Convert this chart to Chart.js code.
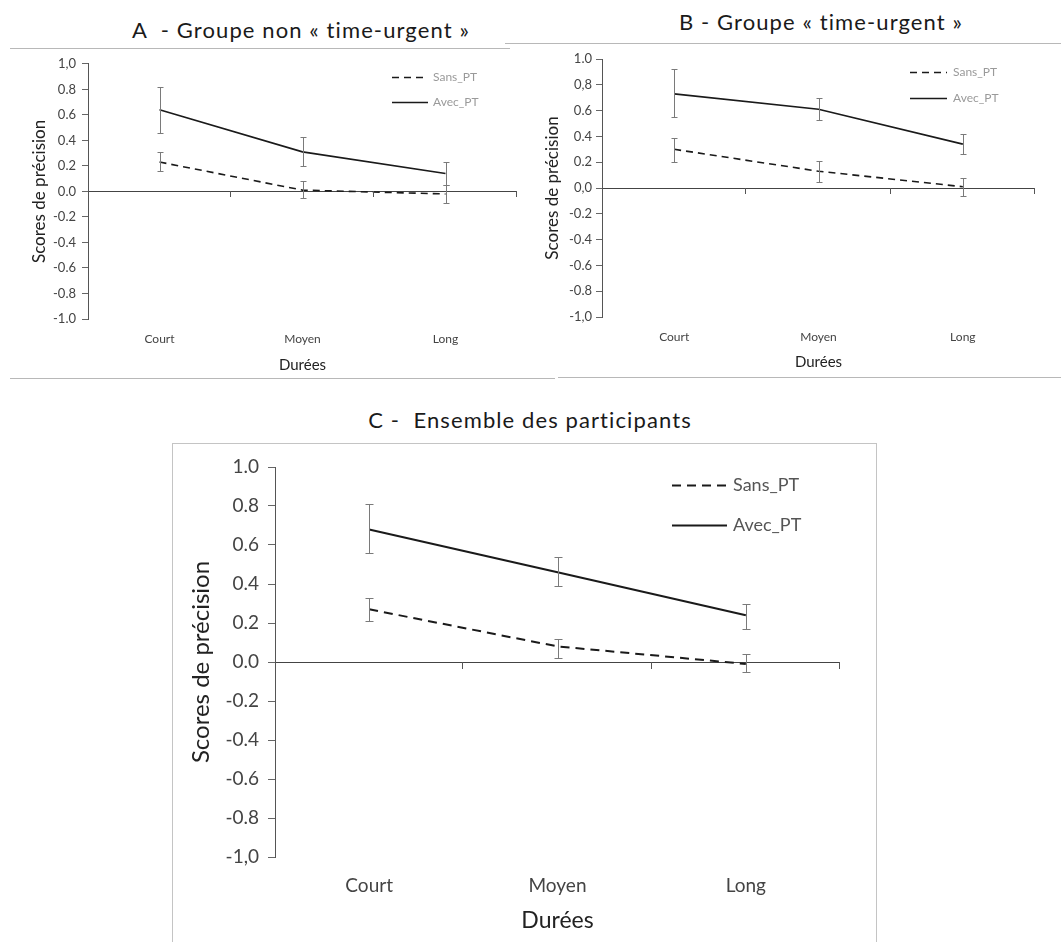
<!DOCTYPE html>
<html>
<head>
<meta charset="utf-8">
<script src="https://cdn.jsdelivr.net/npm/chart.js@4.4.1/dist/chart.umd.min.js"></script>
<style>
  body { margin: 0; background: #fff; width: 1061px; height: 942px; position: relative; overflow: hidden; font-family: Lato, sans-serif; }
  .title { position: absolute; font-size: 22px; line-height: 26px; letter-spacing: 1.1px; color: #1a1a1a; white-space: pre; transform: translateX(-50%); }
  .rule { position: absolute; height: 0; border-top: 1px solid #b8b8b8; }
  .box { position: absolute; border: 1px solid #c4c4c4; border-bottom: none; }
  canvas { position: absolute; }
</style>
</head>
<body>

<div class="title" style="left:301px; top:17px">A  - Groupe non « time-urgent »</div>
<div class="title" style="left:821px; top:9px">B - Groupe « time-urgent »</div>
<div class="title" style="left:530px; top:407px">C -  Ensemble des participants</div>

<div class="rule" style="left:10px; top:48px; width:500px"></div>
<div class="rule" style="left:505px; top:43px; width:556px"></div>
<div class="rule" style="left:10px; top:378px; width:545px"></div>
<div class="rule" style="left:558px; top:377px; width:503px"></div>
<div class="box" style="left:172px; top:443px; width:703px; height:520px"></div>

<canvas id="chartA" width="540" height="326" style="left:0px; top:50px"></canvas>
<canvas id="chartB" width="531" height="330" style="left:530px; top:45px"></canvas>
<canvas id="chartC" width="703" height="497" style="left:172px; top:445px"></canvas>

<script>
// data
const categories = ["Court", "Moyen", "Long"];
const seriesNames = ["Sans_PT", "Avec_PT"];

const yTicksA = ["1,0", "0.8", "0.6", "0.4", "0.2", "0.0", "-0.2", "-0.4", "-0.6", "-0.8", "-1.0"];
const yTicksB = ["1.0", "0,8", "0.6", "0.4", "0.2", "0,0", "-0.2", "-0.4", "-0.6", "-0.8", "-1,0"];
const yTicksC = ["1.0", "0.8", "0.6", "0.4", "0.2", "0.0", "-0.2", "-0.4", "-0.6", "-0.8", "-1,0"];

const sansA = [0.23, 0.01, -0.02];
const sansA_hi = [0.31, 0.08, 0.05];
const sansA_lo = [0.16, -0.05, -0.09];
const avecA = [0.64, 0.31, 0.14];
const avecA_hi = [0.82, 0.43, 0.23];
const avecA_lo = [0.46, 0.20, 0.05];

const sansB = [0.30, 0.13, 0.01];
const sansB_hi = [0.39, 0.21, 0.08];
const sansB_lo = [0.20, 0.05, -0.06];
const avecB = [0.73, 0.61, 0.34];
const avecB_hi = [0.92, 0.70, 0.42];
const avecB_lo = [0.55, 0.53, 0.26];

const sansC = [0.27, 0.08, -0.01];
const sansC_hi = [0.33, 0.12, 0.04];
const sansC_lo = [0.21, 0.02, -0.05];
const avecC = [0.68, 0.46, 0.24];
const avecC_hi = [0.81, 0.54, 0.30];
const avecC_lo = [0.56, 0.39, 0.17];

Chart.defaults.font.family = "Lato, sans-serif";

// error bars drawn from each dataset's errHi / errLo
const errorBars = {
  id: "errorBars",
  afterDatasetsDraw(chart, args, opts) {
    const ctx = chart.ctx;
    const y = chart.scales.y;
    chart.data.datasets.forEach(function (ds, i) {
      const meta = chart.getDatasetMeta(i);
      ctx.save();
      ctx.strokeStyle = opts.color;
      ctx.lineWidth = 1;
      meta.data.forEach(function (pt, j) {
        const px = Math.round(pt.x) + 0.5;
        const yHi = Math.round(y.getPixelForValue(ds.errHi[j])) + 0.5;
        const yLo = Math.round(y.getPixelForValue(ds.errLo[j])) + 0.5;
        ctx.beginPath();
        ctx.moveTo(px, yHi); ctx.lineTo(px, yLo);
        ctx.moveTo(px - opts.cap, yHi); ctx.lineTo(px + opts.cap, yHi);
        ctx.moveTo(px - opts.cap, yLo); ctx.lineTo(px + opts.cap, yLo);
        ctx.stroke();
      });
      ctx.restore();
    });
  }
};

// small tick marks on the horizontal axis that crosses at 0
const zeroTicks = {
  id: "zeroTicks",
  afterDraw(chart, args, opts) {
    const ctx = chart.ctx;
    const x = chart.scales.x, y = chart.scales.y;
    const y0 = Math.round(y.getPixelForValue(0));
    const step = x.getPixelForValue(1) - x.getPixelForValue(0);
    ctx.save();
    ctx.strokeStyle = opts.color;
    ctx.lineWidth = 1;
    ctx.beginPath();
    for (let i = 0; i < categories.length; i++) {
      const px = Math.round(x.getPixelForValue(i) + step / 2) - 0.5;
      ctx.moveTo(px, y0);
      ctx.lineTo(px, y0 + opts.len);
    }
    ctx.stroke();
    ctx.restore();
  }
};

// legend inside the plot, top right
const innerLegend = {
  id: "innerLegend",
  afterDraw(chart, args, opts) {
    const ctx = chart.ctx;
    const area = chart.chartArea;
    ctx.save();
    ctx.font = opts.size + "px Lato, sans-serif";
    ctx.textBaseline = "middle";
    chart.data.datasets.forEach(function (ds, i) {
      const ly = Math.round(area.top + opts.rows[i]) + 0.5;
      ctx.strokeStyle = ds.borderColor;
      ctx.lineWidth = ds.borderWidth;
      ctx.setLineDash(ds.borderDash || []);
      ctx.beginPath();
      ctx.moveTo(area.right - opts.lineStart, ly);
      ctx.lineTo(area.right - opts.lineEnd, ly);
      ctx.stroke();
      ctx.setLineDash([]);
      ctx.fillStyle = opts.color;
      ctx.fillText(ds.label, area.right - opts.textStart, ly);
    });
    ctx.restore();
  }
};

function makeChart(id, s) {
  const ctx = document.getElementById(id).getContext("2d");
  return new Chart(ctx, {
    type: "line",
    data: {
      labels: categories,
      datasets: [
        {
          label: seriesNames[0],
          data: s.sans, errHi: s.sansHi, errLo: s.sansLo,
          borderColor: "#1a1a1a", borderWidth: s.lw, borderDash: s.dash,
          pointRadius: 0, fill: false, tension: 0
        },
        {
          label: seriesNames[1],
          data: s.avec, errHi: s.avecHi, errLo: s.avecLo,
          borderColor: "#1a1a1a", borderWidth: s.lw,
          pointRadius: 0, fill: false, tension: 0
        }
      ]
    },
    options: {
      responsive: false,
      animation: false,
      layout: { padding: { top: s.padTop, right: s.padRight, left: 0, bottom: 0 } },
      plugins: {
        legend: { display: false },
        tooltip: { enabled: false },
        errorBars: { color: "#7a7a7a", cap: s.cap },
        zeroTicks: { color: "#555", len: s.tickLen },
        innerLegend: s.legend
      },
      scales: {
        x: {
          offset: true,
          grid: { display: false, drawTicks: false },
          border: { display: false },
          ticks: { color: "#444", font: { size: s.catSize }, padding: s.catPad, maxRotation: 0 },
          title: { display: true, text: "Durées", color: "#222", font: { size: s.xTitleSize }, padding: { top: 0, bottom: s.xTitlePad } },
          afterFit: function (scale) { scale.height = s.xHeight; }
        },
        y: {
          min: -1, max: 1,
          ticks: {
            stepSize: 0.2, color: "#444", font: { size: s.tickSize }, padding: s.tickPad,
            callback: function (v, i, t) { return s.yTicks[t.length - 1 - i]; }
          },
          grid: {
            drawOnChartArea: true, drawTicks: true, tickLength: s.tickLen, tickColor: "#666",
            color: function (c) { return c.tick && Math.abs(c.tick.value) < 1e-9 ? "#444" : "rgba(0,0,0,0)"; }
          },
          border: { display: true, color: "#555", width: 1 },
          title: { display: true, text: "Scores de précision", color: "#222", font: { size: s.yTitleSize }, padding: { top: s.yTitlePad, bottom: 0 } },
          afterFit: function (scale) { scale.width = s.yWidth; }
        }
      }
    },
    plugins: [errorBars, zeroTicks, innerLegend]
  });
}

makeChart("chartA", {
  sans: sansA, sansHi: sansA_hi, sansLo: sansA_lo,
  avec: avecA, avecHi: avecA_hi, avecLo: avecA_lo,
  yTicks: yTicksA, lw: 1.6, dash: [7, 5], cap: 3, tickLen: 6,
  padTop: 12, padRight: 23, xHeight: 57, yWidth: 88,
  catSize: 12, catPad: 13, xTitleSize: 15, xTitlePad: 2,
  tickSize: 13, tickPad: 6, yTitleSize: 17, yTitlePad: 29,
  legend: { rows: [13, 38], lineStart: 125, lineEnd: 89, textStart: 84, size: 12, color: "#9a9a9a" }
});

makeChart("chartB", {
  sans: sansB, sansHi: sansB_hi, sansLo: sansB_lo,
  avec: avecB, avecHi: avecB_hi, avecLo: avecB_lo,
  yTicks: yTicksB, lw: 1.6, dash: [7, 5], cap: 3, tickLen: 6,
  padTop: 14, padRight: 26, xHeight: 58, yWidth: 72,
  catSize: 12, catPad: 13, xTitleSize: 15, xTitlePad: 4,
  tickSize: 13, tickPad: 4, yTitleSize: 17, yTitlePad: 12,
  legend: { rows: [13, 39], lineStart: 125, lineEnd: 88, textStart: 82, size: 12, color: "#9a9a9a" }
});

makeChart("chartC", {
  sans: sansC, sansHi: sansC_hi, sansLo: sansC_lo,
  avec: avecC, avecHi: avecC_hi, avecLo: avecC_lo,
  yTicks: yTicksC, lw: 2, dash: [9, 6], cap: 4, tickLen: 7,
  padTop: 22, padRight: 35, xHeight: 85, yWidth: 103,
  catSize: 19, catPad: 17, xTitleSize: 23, xTitlePad: 8,
  tickSize: 19, tickPad: 9, yTitleSize: 24, yTitlePad: 15,
  legend: { rows: [18, 58], lineStart: 168, lineEnd: 113, textStart: 107, size: 18, color: "#555" }
});
</script>
</body>
</html>
